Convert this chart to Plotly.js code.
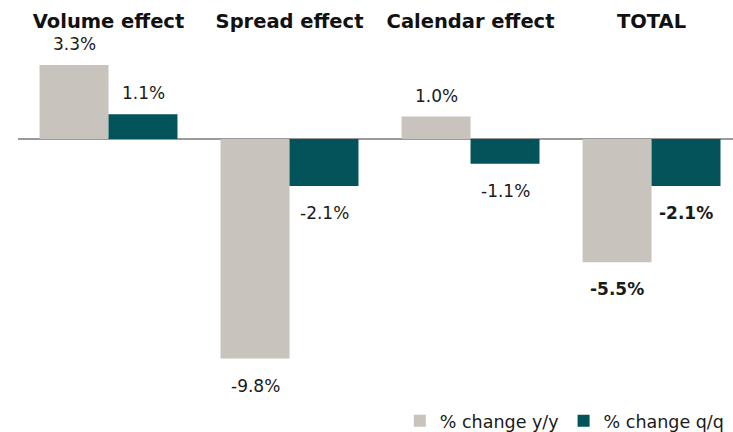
<!DOCTYPE html>
<html>
<head>
<meta charset="utf-8">
<script src="https://cdn.plot.ly/plotly-3.0.1.min.js"></script>
<style>html,body{margin:0;padding:0;background:#fff;}#chart{width:733px;height:432px;}</style>
</head>
<body>
<div id="chart"></div>
<script>
const categories = ["Volume effect", "Spread effect", "Calendar effect", "TOTAL"];
const seriesNames = ["% change y/y", "% change q/q"];
const yoyValues = [3.3, -9.8, 1.0, -5.5];
const qoqValues = [1.1, -2.1, -1.1, -2.1];
const boldCategory = "TOTAL";

const colors = ["#C8C3BC", "#02535A"];
const allValues = [yoyValues, qoqValues];

const traces = allValues.map((vals, s) => ({
  type: "bar",
  name: seriesNames[s],
  x: categories,
  y: vals,
  marker: {color: colors[s], line: {width: 0}},
  hoverinfo: "skip"
}));

const annotations = [];
allValues.forEach((vals, s) => {
  vals.forEach((v, i) => {
    const bold = categories[i] === boldCategory;
    annotations.push({
      x: categories[i], xref: "x",
      y: v, yref: "y",
      xshift: s === 0 ? -34.5 : 34.5,
      yanchor: v >= 0 ? "bottom" : "top",
      yshift: v >= 0 ? 9 : -15,
      showarrow: false,
      text: v.toFixed(1) + "%",
      font: {family: "DejaVu Sans", size: 17, color: "#1a1a1a", weight: bold ? "bold" : "normal"}
    });
  });
});

const layout = {
  width: 733, height: 432,
  margin: {l: 18, r: 0, t: 40, b: 32, autoexpand: false},
  paper_bgcolor: "#fff", plot_bgcolor: "#fff",
  barmode: "group",
  bargap: 0.238, bargroupgap: 0,
  showlegend: true,
  legend: {
    orientation: "h", x: 0.534, xanchor: "left", y: -0.058, yanchor: "middle",
    font: {family: "DejaVu Sans", size: 17.5, color: "#1a1a1a"},
    traceorder: "normal", bgcolor: "rgba(0,0,0,0)"
  },
  xaxis: {
    side: "top", type: "category",
    range: [-0.5, 3.45],
    showgrid: false, zeroline: false, showline: false, ticks: "",
    tickfont: {family: "DejaVu Sans", size: 19.5, color: "#111", weight: "bold"},
    ticklabelstandoff: 7
  },
  yaxis: {
    range: [-11.65, 4.42],
    showgrid: false, showticklabels: false, ticks: "", showline: false,
    zeroline: true, zerolinecolor: "#9a9a9a", zerolinewidth: 1.5
  },
  annotations: annotations
};

Plotly.newPlot("chart", traces, layout, {staticPlot: true, displayModeBar: false});
</script>
</body>
</html>
